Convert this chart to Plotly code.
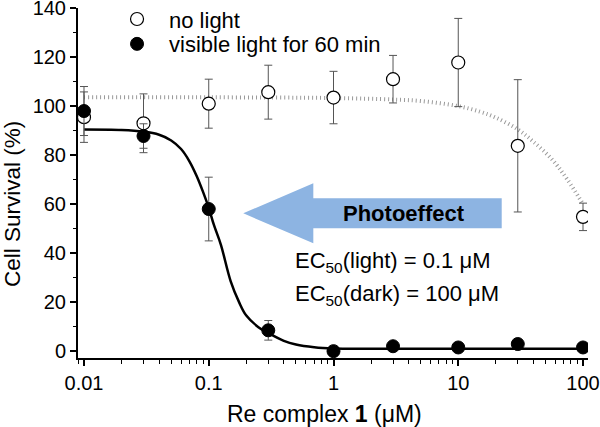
import plotly.graph_objects as go

# ---- data ----
conc = [0.01, 0.03, 0.1, 0.3, 1, 3, 10, 30, 100]
dark_mean = [95.5, 93.0, 101.0, 105.7, 103.5, 111.0, 117.8, 83.8, 54.8]
dark_err = [10.3, 12.0, 10.0, 11.0, 10.7, 9.7, 18.0, 27.0, 5.6]
light_mean = [98.0, 87.8, 58.0, 8.5, 0.0, 2.0, 1.5, 2.9, 1.5]
light_err = [10.0, 5.0, 13.0, 4.0, 0.0, 0.0, 0.0, 0.0, 0.0]

# fitted curves
fit_light_x = [0.01, 0.02, 0.03, 0.04, 0.05, 0.06, 0.07, 0.08, 0.09, 0.1, 0.11, 0.125,
               0.15, 0.175, 0.2, 0.25, 0.3, 0.4, 0.5, 0.7, 1, 2, 10, 100]
fit_light_y = [90.5, 90.3, 89.6, 88.3, 86.0, 82.5, 77.5, 71.5, 65.0, 58.5, 51.5, 43.5,
               28.5, 20.0, 14.5, 9.8, 7.4, 4.2, 2.7, 1.6, 1.1, 1.0, 1.0, 1.0]
fit_dark_x = [0.01, 0.1, 1, 3, 5, 10, 15, 20, 30, 40, 57, 75, 100]
fit_dark_y = [103.6, 103.6, 103.3, 102.7, 102.1, 100.0, 97.7, 95.3, 90.5, 85.5, 78.0, 70.0, 60.0]

y_ticks = [0, 20, 40, 60, 80, 100, 120, 140]
x_ticks = [0.01, 0.1, 1, 10, 100]
x_ticklabels = ["0.01", "0.1", "1", "10", "100"]

FONT = "Liberation Sans, Arial, sans-serif"

fig = go.Figure()

fig.add_trace(go.Scatter(x=fit_dark_x, y=fit_dark_y, mode="lines", line_shape="spline",
                         line=dict(color="#9a9a9a", width=4, dash="1px,3px"),
                         showlegend=False, hoverinfo="skip"))
fig.add_trace(go.Scatter(x=fit_light_x, y=fit_light_y, mode="lines", line_shape="spline",
                         line=dict(color="black", width=2.5),
                         showlegend=False, hoverinfo="skip"))
fig.add_trace(go.Scatter(x=conc, y=dark_mean, mode="markers", name="no light",
                         legend="legend",
                         marker=dict(symbol="circle", size=13, color="white",
                                     line=dict(color="black", width=1.2)),
                         error_y=dict(type="data", array=dark_err, color="#555555",
                                      thickness=1, width=4)))
fig.add_trace(go.Scatter(x=conc, y=light_mean, mode="markers", name="visible light for 60 min",
                         legend="legend2",
                         marker=dict(symbol="circle", size=13, color="black",
                                     line=dict(color="black", width=1)),
                         error_y=dict(type="data", array=light_err, color="#555555",
                                      thickness=1, width=4)))

# photoeffect arrow (decoration)
arrow_path = ("M 0.3241 0.4134 L 0.4614 0.4991 L 0.4614 0.4563 L 0.8308 0.4563 "
              "L 0.8308 0.3706 L 0.4614 0.3706 L 0.4614 0.3277 Z")
fig.add_shape(type="path", path=arrow_path, xref="paper", yref="paper",
              fillcolor="#8db4e2", line=dict(width=0), layer="below")

annotations = [
    dict(text="<b>Photoeffect</b>", x=0.639, y=0.414, xref="paper", yref="paper",
         showarrow=False, font=dict(size=22, color="black", family=FONT),
         xanchor="center", yanchor="middle"),
    dict(text="EC<sub>50</sub>(light) = 0.1 μM", x=0.4216, y=0.274, xref="paper", yref="paper",
         showarrow=False, font=dict(size=22, color="black", family=FONT),
         xanchor="left", yanchor="middle"),
    dict(text="EC<sub>50</sub>(dark) = 100 μM", x=0.4216, y=0.18, xref="paper", yref="paper",
         showarrow=False, font=dict(size=22, color="black", family=FONT),
         xanchor="left", yanchor="middle"),
    dict(text="Cell Survival (%)", x=0, y=0.44, xref="paper", yref="paper", xshift=-66,
         textangle=-90, showarrow=False, font=dict(size=22.5, color="black", family=FONT),
         xanchor="center", yanchor="middle"),
    dict(text="Re complex <b>1</b> (μM)", x=0.483, y=-0.16, xref="paper", yref="paper",
         showarrow=False, font=dict(size=23, color="black", family=FONT),
         xanchor="center", yanchor="middle"),
]

legend_common = dict(xanchor="left", yanchor="middle", bgcolor="rgba(0,0,0,0)",
                     font=dict(size=22, family=FONT), itemwidth=54)

fig.update_layout(
    width=600, height=427,
    margin=dict(l=78, r=12, t=8, b=69, autoexpand=False),
    paper_bgcolor="white", plot_bgcolor="white",
    font=dict(family=FONT, size=20, color="black"),
    annotations=annotations,
    legend=dict(x=0.053, y=0.968, **legend_common),
    legend2=dict(x=0.053, y=0.897, **legend_common),
    xaxis=dict(type="log", range=[-2.048, 2.04], showgrid=False, zeroline=False,
               showline=True, linecolor="black", linewidth=2,
               ticks="outside", ticklen=6, tickwidth=1.5, tickcolor="black",
               tickvals=x_ticks, ticktext=x_ticklabels, ticklabeloverflow="allow",
               tickfont=dict(size=20, family=FONT), automargin=False,
               minor=dict(ticks="outside", ticklen=3.5, tickwidth=1.2, tickcolor="black",
                          dtick="D1", showgrid=False)),
    yaxis=dict(range=[-2.8, 140.05], showgrid=False, zeroline=False,
               showline=True, linecolor="black", linewidth=2,
               ticks="outside", ticklen=6, tickwidth=1.5, tickcolor="black",
               tickvals=y_ticks, tickfont=dict(size=20, family=FONT), automargin=False,
               ticklabeloverflow="allow",
               minor=dict(ticks="outside", ticklen=3.5, tickwidth=1.2, tickcolor="black",
                          dtick=10, showgrid=False)),
)

fig.write_html("out.html", config={"displayModeBar": False},
               post_script="document.body.style.margin='0px';document.body.style.padding='0px';")
